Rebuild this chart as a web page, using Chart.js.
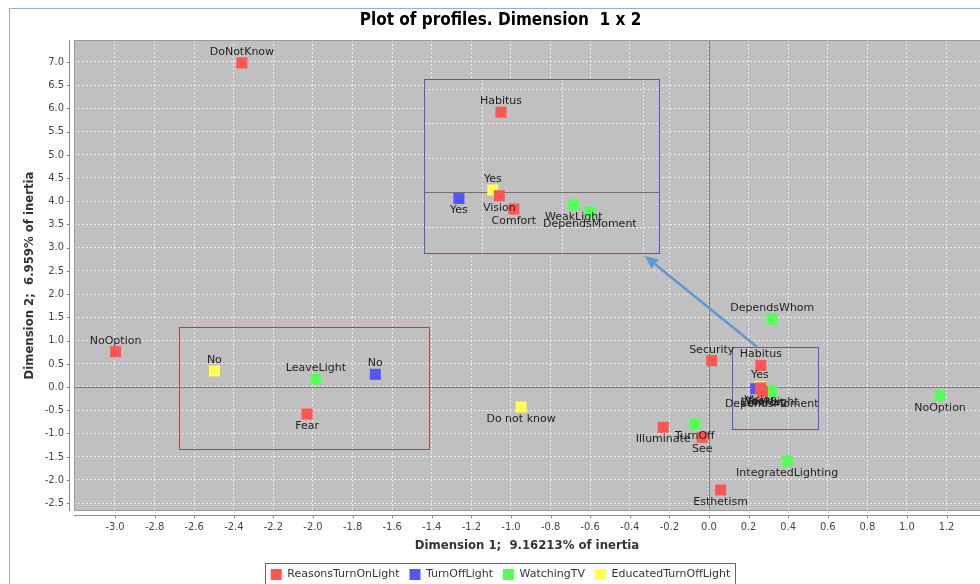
<!DOCTYPE html>
<html>
<head>
<meta charset="utf-8">
<script src="https://cdn.jsdelivr.net/npm/chart.js@4.4.0/dist/chart.umd.min.js"></script>
<style>
    html, body { margin: 0; padding: 0; background: #fff; }
    #wrap { position: relative; width: 980px; height: 584px; overflow: hidden; }
    #frame { position: absolute; left: 9px; top: 8px; width: 1000px; height: 600px;
             border-left: 1px solid #8fb0dc; border-top: 1px solid #8fb0dc; }
    #main { position: absolute; left: 0; top: 0; }
    #inset { position: absolute; left: 424px; top: 79px; }
</style>
</head>
<body>
<div id="wrap">
    <div id="frame"></div>
    <canvas id="main" width="980" height="584"></canvas>
    <canvas id="inset" width="236" height="175"></canvas>
</div>
<script>
// --- data ---
const seriesNames = ['ReasonsTurnOnLight', 'TurnOffLight', 'WatchingTV', 'EducatedTurnOffLight'];

const reasonsLabels = ['DoNotKnow', 'NoOption', 'Fear', 'Security', 'Illuminate', 'See', 'Esthetism', 'Habitus', 'Vision', 'Comfort'];
const reasonsX = [-2.359, -2.997, -2.030, 0.014, -0.231, -0.034, 0.059, 0.262, 0.261, 0.270];
const reasonsY = [6.978, 0.760, -0.582, 0.567, -0.868, -1.083, -2.218, 0.464, -0.020, -0.097];

const turnOffLabels = ['No', 'Yes'];
const turnOffX = [-1.685, 0.236];
const turnOffY = [0.273, -0.036];

const watchingLabels = ['LeaveLight', 'DependsWhom', 'NoOption', 'TurnOff', 'IntegratedLighting', 'WeakLight', 'DependsMoment'];
const watchingX = [-1.985, 0.320, 1.167, -0.071, 0.395, 0.307, 0.317];
const watchingY = [0.172, 1.458, -0.187, -0.797, -1.600, -0.074, -0.113];

const educatedLabels = ['No', 'Do not know', 'Yes'];
const educatedX = [-2.498, -0.949, 0.257];
const educatedY = [0.345, -0.431, 0.013];

const xTicks = [-3.0, -2.8, -2.6, -2.4, -2.2, -2.0, -1.8, -1.6, -1.4, -1.2, -1.0, -0.8, -0.6, -0.4, -0.2, 0.0, 0.2, 0.4, 0.6, 0.8, 1.0, 1.2];
const yTicks = [7.0, 6.5, 6.0, 5.5, 5.0, 4.5, 4.0, 3.5, 3.0, 2.5, 2.0, 1.5, 1.0, 0.5, 0.0, -0.5, -1.0, -1.5, -2.0, -2.5];
const insetXTicks = [0.25, 0.30, 0.35];
const insetYTicks = [0.6, 0.4, 0.2, 0.0, -0.2];

// labels drawn above their point (all others go below)
const labelsAbove = [
    'ReasonsTurnOnLight:DoNotKnow', 'ReasonsTurnOnLight:NoOption', 'ReasonsTurnOnLight:Security', 'ReasonsTurnOnLight:Habitus',
    'TurnOffLight:No', 'WatchingTV:LeaveLight', 'WatchingTV:DependsWhom',
    'EducatedTurnOffLight:No', 'EducatedTurnOffLight:Yes'
];

// annotation boxes in data units
const redBox = { x0: -2.675, x1: -1.414, y0: -1.335, y1: 1.286 };
const zoomBox = { x0: 0.115, x1: 0.552, y0: -0.911, y1: 0.868 };
const arrowFrom = { x: 0.242, y: 0.868 };
const arrowTo = { x: -0.323, y: 2.82 };

const colors = ['#ff5555', '#5555ff', '#55ff55', '#ffff55'];
const labelFont = "11px 'DejaVu Sans'";
const tickFont = { family: "'DejaVu Sans Condensed', 'DejaVu Sans'", size: 11 };

const makeDatasets = () => {
    const sets = [
        [reasonsLabels, reasonsX, reasonsY],
        [turnOffLabels, turnOffX, turnOffY],
        [watchingLabels, watchingX, watchingY],
        [educatedLabels, educatedX, educatedY]
    ];
    return sets.map(([names, xs, ys], i) => ({
        label: seriesNames[i],
        names: names,
        data: xs.map((x, j) => ({ x: x, y: ys[j] })),
        backgroundColor: colors[i],
        borderColor: colors[i],
        borderWidth: 0,
        pointStyle: 'rect',
        pointRadius: 7.8,
        pointHoverRadius: 7.8
    }));
};

const drawPointLabels = (chart) => {
    const ctx = chart.ctx;
    const area = chart.chartArea;
    ctx.save();
    ctx.beginPath();
    ctx.rect(area.left, area.top, area.right - area.left, area.bottom - area.top);
    ctx.clip();
    ctx.font = labelFont;
    ctx.fillStyle = '#1e1e1e';
    ctx.textAlign = 'center';
    ctx.textBaseline = 'middle';
    chart.data.datasets.forEach((ds, di) => {
        chart.getDatasetMeta(di).data.forEach((pt, i) => {
            if (pt.x < area.left || pt.x > area.right || pt.y < area.top || pt.y > area.bottom) return;
            const name = ds.names[i];
            const above = labelsAbove.includes(ds.label + ':' + name);
            ctx.fillText(name, pt.x, above ? pt.y - 11 : pt.y + 12);
        });
    });
    ctx.restore();
};

const strokeDataRect = (chart, box, color) => {
    const xs = chart.scales.x, ys = chart.scales.y, ctx = chart.ctx;
    const l = Math.round(xs.getPixelForValue(box.x0)) + 0.5;
    const r = Math.round(xs.getPixelForValue(box.x1)) + 0.5;
    const t = Math.round(ys.getPixelForValue(box.y1)) + 0.5;
    const b = Math.round(ys.getPixelForValue(box.y0)) + 0.5;
    ctx.save();
    ctx.strokeStyle = color;
    ctx.lineWidth = 1;
    ctx.strokeRect(l, t, r - l, b - t);
    ctx.restore();
};

const drawZeroLines = (chart, color) => {
    const xs = chart.scales.x, ys = chart.scales.y, ctx = chart.ctx, a = chart.chartArea;
    ctx.save();
    ctx.strokeStyle = color;
    ctx.lineWidth = 1;
    ctx.beginPath();
    const zx = Math.round(xs.getPixelForValue(0)) + 0.5;
    const zy = Math.round(ys.getPixelForValue(0)) + 0.5;
    if (zx >= a.left && zx <= a.right) { ctx.moveTo(zx, a.top); ctx.lineTo(zx, a.bottom); }
    if (zy >= a.top && zy <= a.bottom) { ctx.moveTo(a.left, zy); ctx.lineTo(a.right, zy); }
    ctx.stroke();
    ctx.restore();
};

const mainDecor = {
    id: 'mainDecor',
    beforeDraw(chart) {
        const a = chart.chartArea, ctx = chart.ctx;
        ctx.save();
        ctx.fillStyle = '#c0c0c0';
        ctx.fillRect(a.left, a.top, a.right - a.left, a.bottom - a.top);
        ctx.restore();
    },
    beforeDatasetsDraw(chart) {
        drawZeroLines(chart, '#7a7a7a');
        strokeDataRect(chart, redBox, '#cc3b3b');
        strokeDataRect(chart, zoomBox, '#4b5bd3');
    },
    afterDatasetsDraw(chart) {
        drawPointLabels(chart);
    },
    afterDraw(chart) {
        const ctx = chart.ctx, a = chart.chartArea;
        const xs = chart.scales.x, ys = chart.scales.y;
        ctx.save();
        // plot outline
        ctx.strokeStyle = '#9a9a9a';
        ctx.lineWidth = 1;
        ctx.strokeRect(a.left + 0.5, a.top + 0.5, a.right - a.left, a.bottom - a.top - 1);
        // offset axis lines with small tick marks
        ctx.strokeStyle = '#8c8c8c';
        ctx.beginPath();
        const axY = a.bottom + 4.5, axX = a.left - 4.5;
        ctx.moveTo(a.left, axY); ctx.lineTo(a.right, axY);
        ctx.moveTo(axX, a.top); ctx.lineTo(axX, a.bottom);
        xTicks.forEach(v => {
            const px = Math.round(xs.getPixelForValue(v)) + 0.5;
            ctx.moveTo(px, axY); ctx.lineTo(px, axY + 3);
        });
        yTicks.forEach(v => {
            const py = Math.round(ys.getPixelForValue(v)) + 0.5;
            ctx.moveTo(axX, py); ctx.lineTo(axX - 3, py);
        });
        ctx.stroke();

        // arrow towards the magnified view
        const x0 = xs.getPixelForValue(arrowFrom.x), y0 = ys.getPixelForValue(arrowFrom.y);
        const x1 = xs.getPixelForValue(arrowTo.x), y1 = ys.getPixelForValue(arrowTo.y);
        const ang = Math.atan2(y1 - y0, x1 - x0), len = 13, w = 6;
        const bx = x1 - len * Math.cos(ang), by = y1 - len * Math.sin(ang);
        ctx.strokeStyle = '#5b9bd5';
        ctx.fillStyle = '#5b9bd5';
        ctx.lineWidth = 2.5;
        ctx.beginPath(); ctx.moveTo(x0, y0); ctx.lineTo(bx, by); ctx.stroke();
        ctx.beginPath();
        ctx.moveTo(x1, y1);
        ctx.lineTo(bx + w * Math.sin(ang), by - w * Math.cos(ang));
        ctx.lineTo(bx - w * Math.sin(ang), by + w * Math.cos(ang));
        ctx.closePath();
        ctx.fill();

        // legend frame
        const boxes = chart.legend.legendHitBoxes;
        if (boxes && boxes.length) {
            const l = Math.min(...boxes.map(b => b.left)) - 6;
            const r = Math.max(...boxes.map(b => b.left + b.width)) + 5;
            ctx.strokeStyle = '#666';
            ctx.lineWidth = 1;
            ctx.strokeRect(Math.round(l) + 0.5, 563.5, Math.round(r - l), 40);
        }
        ctx.restore();
    }
};

new Chart(document.getElementById('main'), {
    type: 'scatter',
    data: { datasets: makeDatasets() },
    options: {
        responsive: false,
        animation: false,
        devicePixelRatio: 1,
        layout: { autoPadding: false, padding: { left: 21, right: 0, top: 0, bottom: -6 } },
        plugins: {
            title: {
                display: true,
                text: 'Plot of profiles. Dimension  1 x 2',
                color: '#000',
                font: { family: "'DejaVu Sans Condensed', 'DejaVu Sans'", size: 17, weight: 'bold' },
                padding: { top: 10, bottom: 9.6 }
            },
            legend: {
                position: 'bottom',
                labels: {
                    boxWidth: 11,
                    boxHeight: 11,
                    padding: 10,
                    color: '#333',
                    font: { family: "'DejaVu Sans'", size: 11 }
                }
            },
            tooltip: { enabled: false }
        },
        scales: {
            x: {
                type: 'linear',
                min: -3.207,
                max: 1.369,
                afterBuildTicks: s => { s.ticks = xTicks.map(v => ({ value: v })); },
                afterFit: s => { s.height = 48; },
                ticks: {
                    autoSkip: false, maxRotation: 0, padding: 9.5,
                    color: '#444', font: tickFont,
                    callback: v => v.toFixed(1)
                },
                grid: { color: '#ececec', lineWidth: 1, drawTicks: false },
                border: { display: false, dash: [2, 2] },
                title: {
                    display: true,
                    text: 'Dimension 1;  9.16213% of inertia',
                    color: '#333',
                    font: { family: "'DejaVu Sans Condensed', 'DejaVu Sans'", size: 13, weight: 'bold' },
                    padding: { top: 0, bottom: 5.2 }
                }
            },
            y: {
                type: 'linear',
                min: -2.67,
                max: 7.47,
                afterBuildTicks: s => { s.ticks = yTicks.map(v => ({ value: v })); },
                afterFit: s => { s.width = 53; },
                ticks: {
                    autoSkip: false, padding: 10,
                    color: '#444', font: tickFont,
                    callback: v => v.toFixed(1)
                },
                grid: { color: '#ececec', lineWidth: 1, drawTicks: false },
                border: { display: false, dash: [2, 2] },
                title: {
                    display: true,
                    text: 'Dimension 2;  6.959% of inertia',
                    color: '#333',
                    font: { family: "'DejaVu Sans Condensed', 'DejaVu Sans'", size: 13, weight: 'bold' },
                    padding: { top: 1.2, bottom: 0 }
                }
            }
        }
    },
    plugins: [mainDecor]
});

// magnified view of the crowded area around the origin
const insetDecor = {
    id: 'insetDecor',
    beforeDatasetsDraw(chart) {
        const ctx = chart.ctx, a = chart.chartArea;
        const xs = chart.scales.x, ys = chart.scales.y;
        ctx.save();
        ctx.fillStyle = '#c0c0c0';
        ctx.fillRect(0, 0, chart.width, chart.height);
        ctx.strokeStyle = '#ececec';
        ctx.lineWidth = 1;
        ctx.setLineDash([2, 2]);
        ctx.beginPath();
        insetXTicks.forEach(v => {
            const px = Math.round(xs.getPixelForValue(v)) + 0.5;
            ctx.moveTo(px, a.top); ctx.lineTo(px, a.bottom);
        });
        insetYTicks.forEach(v => {
            const py = Math.round(ys.getPixelForValue(v)) + 0.5;
            ctx.moveTo(a.left, py); ctx.lineTo(a.right, py);
        });
        ctx.stroke();
        ctx.restore();
        drawZeroLines(chart, '#707070');
    },
    afterDatasetsDraw(chart) {
        drawPointLabels(chart);
    },
    afterDraw(chart) {
        const ctx = chart.ctx;
        ctx.save();
        ctx.strokeStyle = '#4b5bd3';
        ctx.lineWidth = 1;
        ctx.strokeRect(0.5, 0.5, chart.width - 1, chart.height - 1);
        ctx.restore();
    }
};

new Chart(document.getElementById('inset'), {
    type: 'scatter',
    data: { datasets: makeDatasets() },
    options: {
        responsive: false,
        animation: false,
        devicePixelRatio: 1,
        layout: { autoPadding: false, padding: 0 },
        plugins: { legend: { display: false }, title: { display: false }, tooltip: { enabled: false } },
        scales: {
            x: { type: 'linear', display: false, min: 0.2144, max: 0.3604 },
            y: { type: 'linear', display: false, min: -0.358, max: 0.657 }
        }
    },
    plugins: [insetDecor]
});
</script>
</body>
</html>
